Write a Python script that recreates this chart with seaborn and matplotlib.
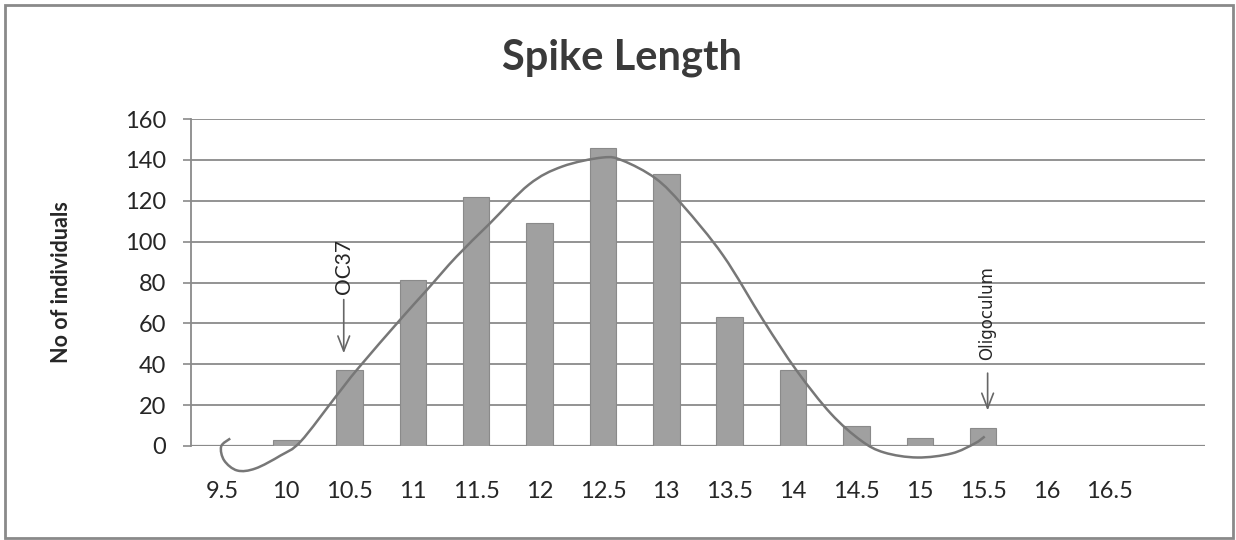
import matplotlib
matplotlib.use("Agg")
import matplotlib.pyplot as plt
from matplotlib.path import Path
from matplotlib.patches import PathPatch, Rectangle
import seaborn as sns
import pandas as pd

# Spike length classes (cm) and number of individuals in each class
length_classes = ["9.5", "10", "10.5", "11", "11.5", "12", "12.5", "13",
                  "13.5", "14", "14.5", "15", "15.5", "16", "16.5"]
individuals = [0, 3, 37, 81, 122, 109, 146, 133, 63, 37, 10, 4, 9, 0, 0]

# Hand-drawn fitted curve, in class-index / count coordinates
curve_x = [0.119, -0.024, 0.024, 0.230, 0.516, 0.913, 1.230, 1.786, 2.135,
           2.817, 3.214, 3.690, 4.214, 4.833, 5.357, 5.992, 6.310, 6.833,
           7.262, 7.897, 8.532, 9.056, 9.595, 10.071, 10.437, 10.960, 11.500,
           11.865, 12.024]
curve_y = [3.67, -0.24, -7.09, -11.99, -11.01, -4.65, 2.20, 24.22, 37.92,
           62.38, 76.08, 92.71, 108.86, 127.94, 136.74, 141.14, 139.68, 130.87,
           117.66, 93.20, 61.40, 36.94, 15.90, 2.69, -3.18, -5.63, -3.67,
           1.22, 4.65]

y_ticks = [0, 20, 40, 60, 80, 100, 120, 140, 160]

sns.set_theme(style="white")
plt.rcParams["font.family"] = ["Lato", "DejaVu Sans"]
text_color = "#262626"
grey_line = "#8a8a8a"

fig = plt.figure(figsize=(12.36, 5.4), dpi=100)
ax = fig.add_axes([191 / 1236, 94 / 540, (1205 - 191) / 1236, (446 - 119) / 540])

df = pd.DataFrame({"length": length_classes, "count": individuals})
sns.barplot(data=df, x="length", y="count", order=length_classes,
            color="#a0a0a0", width=0.42, saturation=1,
            edgecolor="#8a8a8a", linewidth=0.8, ax=ax, zorder=3)

ax.set_xlim(-0.5, len(length_classes) + 0.5)
ax.set_ylim(0, 160)
ax.set_yticks(y_ticks)
ax.yaxis.grid(True, color=grey_line, linewidth=1.3, zorder=0)
ax.xaxis.grid(False)
for side in ["top", "right", "bottom"]:
    ax.spines[side].set_visible(False)
ax.spines["left"].set_color(grey_line)
ax.spines["left"].set_linewidth(1.3)
ax.axhline(0, color=grey_line, linewidth=1.6, zorder=2)

ax.tick_params(axis="y", which="major", left=True, length=6, width=1.2,
               color=grey_line, pad=12, labelsize=17, labelcolor=text_color)
ax.tick_params(axis="x", bottom=False, pad=19, labelsize=17, labelcolor=text_color)
ax.set_xlabel("")
ax.set_ylabel("No of individuals", fontsize=15.5, fontweight="bold",
              color=text_color, labelpad=38)


def smooth_path(xs, ys):
    """Cubic Bezier path passing through every point (Catmull-Rom tangents)."""
    pts = list(zip(xs, ys))
    n = len(pts)
    verts = [pts[0]]
    codes = [Path.MOVETO]
    for i in range(n - 1):
        p0 = pts[max(i - 1, 0)]
        p1 = pts[i]
        p2 = pts[i + 1]
        p3 = pts[min(i + 2, n - 1)]
        c1 = (p1[0] + (p2[0] - p0[0]) / 6, p1[1] + (p2[1] - p0[1]) / 6)
        c2 = (p2[0] - (p3[0] - p1[0]) / 6, p2[1] - (p3[1] - p1[1]) / 6)
        verts += [c1, c2, p2]
        codes += [Path.CURVE4] * 3
    return Path(verts, codes)


ax.add_patch(PathPatch(smooth_path(curve_x, curve_y), facecolor="none",
                       edgecolor="#777777", linewidth=1.8, clip_on=False,
                       zorder=4))

# Marked genotypes
arrow_style = dict(arrowstyle="->,head_length=0.9,head_width=0.35",
                   color="#666666", lw=1.2)
ax.annotate("", xy=(1.91, 44), xytext=(1.91, 73), arrowprops=arrow_style,
            zorder=5)
ax.text(1.91, 88, "OC37", rotation=90, ha="center", va="center",
        fontsize=15, color=text_color, zorder=5)
ax.annotate("", xy=(12.07, 16), xytext=(12.07, 37), arrowprops=arrow_style,
            zorder=5)
ax.text(12.07, 65, "Oligoculum", rotation=90, ha="center", va="center",
        fontsize=12, color=text_color,
        family=["Liberation Sans Narrow", "DejaVu Sans"], zorder=5)

fig.text(0.503, 0.893, "Spike Length", ha="center", va="center",
         fontsize=30, fontweight="bold", color="#3a3a3a")

# Chart frame
fig.patches.append(Rectangle((5 / 1236, 2 / 540), 1228 / 1236, 533 / 540,
                             transform=fig.transFigure, fill=False,
                             edgecolor="#8a8a8a", linewidth=2))

fig.savefig("out.png", dpi=100)
